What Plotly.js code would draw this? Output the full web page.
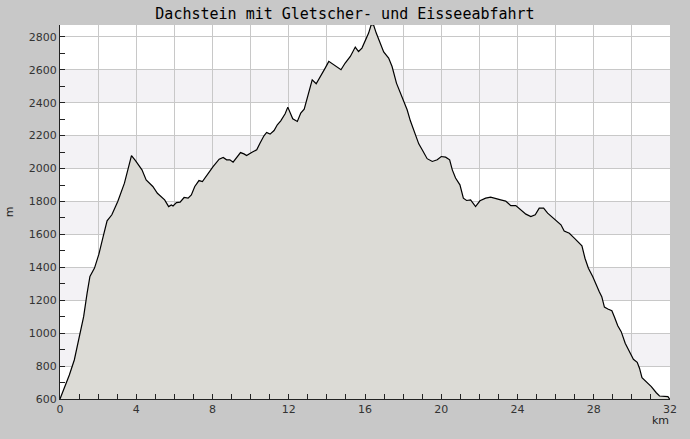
<!DOCTYPE html>
<html>
<head>
<meta charset="utf-8">
<script src="https://cdn.plot.ly/plotly-3.0.1.min.js"></script>
<style>html,body{margin:0;padding:0;background:#c8c8c8;}#chart{width:690px;height:439px;}</style>
</head>
<body>
<div id="chart"></div>
<script>
// Distance along the route (km)
const distanceKm = [
  0.00, 0.23, 0.49, 0.75, 1.02, 1.24, 1.42, 1.57, 1.81, 2.04, 2.27, 2.47, 2.72, 3.03, 3.38, 3.75, 3.95,
  4.30, 4.52, 4.87, 5.11, 5.32, 5.49, 5.70, 5.84, 5.93, 6.11, 6.30, 6.51, 6.72, 6.89, 7.07, 7.29, 7.47,
  7.59, 7.77, 8.03, 8.35, 8.56, 8.74, 8.91, 9.08, 9.26, 9.47, 9.65, 9.79, 10.05, 10.32, 10.49, 10.70,
  10.84, 11.02, 11.23, 11.40, 11.58, 11.81, 11.95, 12.07, 12.21, 12.45, 12.63, 12.81, 13.03, 13.23,
  13.44, 13.68, 13.91, 14.10, 14.35, 14.74, 14.96, 15.23, 15.49, 15.66, 15.84, 16.02, 16.19, 16.32,
  16.45, 16.59, 16.81, 16.98, 17.24, 17.42, 17.65, 17.95, 18.21, 18.38, 18.60, 18.82, 19.00, 19.26,
  19.53, 19.79, 20.00, 20.23, 20.44, 20.58, 20.75, 20.98, 21.16, 21.33, 21.54, 21.80, 22.03, 22.33,
  22.59, 22.86, 23.12, 23.38, 23.65, 23.91, 24.17, 24.44, 24.70, 24.93, 25.14, 25.37, 25.58, 25.84,
  26.10, 26.28, 26.45, 26.72, 26.98, 27.19, 27.38, 27.54, 27.72, 27.95, 28.12, 28.29, 28.42, 28.56,
  28.74, 28.95, 29.08, 29.26, 29.44, 29.65, 29.87, 30.08, 30.28, 30.40, 30.53, 30.75, 31.02, 31.28,
  31.45, 31.89, 31.98
];
// Elevation (m)
const elevationM = [
  600, 665, 746, 837, 979, 1100, 1242, 1345, 1395, 1480, 1590, 1682, 1719, 1800, 1911, 2079, 2049,
  1992, 1931, 1891, 1850, 1826, 1810, 1769, 1779, 1773, 1793, 1796, 1824, 1820, 1840, 1891, 1927, 1921,
  1942, 1972, 2012, 2057, 2067, 2053, 2053, 2039, 2063, 2097, 2089, 2079, 2097, 2114, 2154, 2199,
  2219, 2209, 2231, 2266, 2290, 2333, 2373, 2335, 2302, 2286, 2337, 2361, 2448, 2539,
  2515, 2560, 2610, 2651, 2630, 2600, 2641, 2681, 2738, 2711, 2732, 2782, 2823, 2872,
  2872, 2823, 2752, 2708, 2671, 2620, 2519, 2428, 2357, 2290, 2215, 2150, 2114, 2060,
  2043, 2053, 2073, 2069, 2053, 1992, 1942, 1901, 1820, 1806, 1810, 1769, 1804, 1820,
  1826, 1820, 1810, 1802, 1775, 1775, 1749, 1723, 1708, 1719, 1759, 1759, 1729, 1703,
  1678, 1658, 1620, 1607, 1577, 1550, 1530, 1455, 1394, 1343, 1293, 1252, 1222, 1158,
  1147, 1136, 1100, 1045, 1009, 939, 888, 841, 823, 787, 729, 705, 675, 638,
  618, 614, 600
];
// Axis ticks
const xGridVals = [0, 2, 4, 6, 8, 10, 12, 14, 16, 18, 20, 22, 24, 26, 28, 30, 32];
const xTickText = ['0', '', '4', '', '8', '', '12', '', '16', '', '20', '', '24', '', '28', '', '32'];
const yTickVals = [600, 800, 1000, 1200, 1400, 1600, 1800, 2000, 2200, 2400, 2600, 2800];
const titleText = 'Dachstein mit Gletscher- und Eisseeabfahrt';

// alternating shaded bands between every other pair of y gridlines
const bands = [];
for (let i = 1; i + 1 < yTickVals.length; i += 2) {
  bands.push({
    type: 'rect', xref: 'paper', yref: 'y', x0: 0, x1: 1,
    y0: yTickVals[i], y1: yTickVals[i + 1],
    fillcolor: '#f3f2f5', line: {width: 0}, layer: 'below'
  });
}

const trace = {
  x: distanceKm, y: elevationM, type: 'scatter', mode: 'lines',
  fill: 'tozeroy', fillcolor: '#dcdbd6',
  line: {color: '#000000', width: 1.2}, hoverinfo: 'skip'
};

const tickFont = {family: 'DejaVu Sans, sans-serif', size: 11, color: '#333333'};

const layout = {
  width: 690, height: 439,
  paper_bgcolor: '#c8c8c8', plot_bgcolor: '#ffffff',
  margin: {l: 60, r: 20, t: 25, b: 40},
  showlegend: false,
  title: {
    text: titleText, x: 0.5, xanchor: 'center', y: 0.968, yanchor: 'middle',
    font: {family: 'DejaVu Sans Mono, Liberation Mono, monospace', size: 15, color: '#000000'}
  },
  xaxis: {
    range: [0, 32], tickmode: 'array', tickvals: xGridVals, ticktext: xTickText,
    showgrid: true, gridcolor: '#c8c8c8', gridwidth: 1, zeroline: false,
    showline: true, linecolor: '#222222', linewidth: 1,
    ticks: 'inside', ticklen: 5, tickcolor: '#222222', tickfont: tickFont,
    minor: {dtick: 1, ticks: 'inside', ticklen: 5, tickcolor: '#222222', showgrid: false},
    fixedrange: true
  },
  yaxis: {
    range: [600, 2872], tickmode: 'array', tickvals: yTickVals,
    showgrid: true, gridcolor: '#c8c8c8', gridwidth: 1, zeroline: false,
    showline: true, linecolor: '#222222', linewidth: 1,
    ticks: 'inside', ticklen: 5, tickcolor: '#222222', tickfont: tickFont,
    minor: {dtick: 100, ticks: 'inside', ticklen: 5, tickcolor: '#222222', showgrid: false},
    title: {text: 'm', font: {family: 'DejaVu Sans, sans-serif', size: 11, color: '#222222'}, standoff: 12},
    fixedrange: true
  },
  shapes: bands,
  annotations: [{
    text: 'km', xref: 'paper', yref: 'paper', x: 1, y: 0, xanchor: 'center', yanchor: 'top',
    xshift: -10, yshift: -13, showarrow: false,
    font: {family: 'DejaVu Sans, sans-serif', size: 11, color: '#222222'}
  }]
};

Plotly.newPlot('chart', [trace], layout, {displayModeBar: false, staticPlot: true});
</script>
</body>
</html>
